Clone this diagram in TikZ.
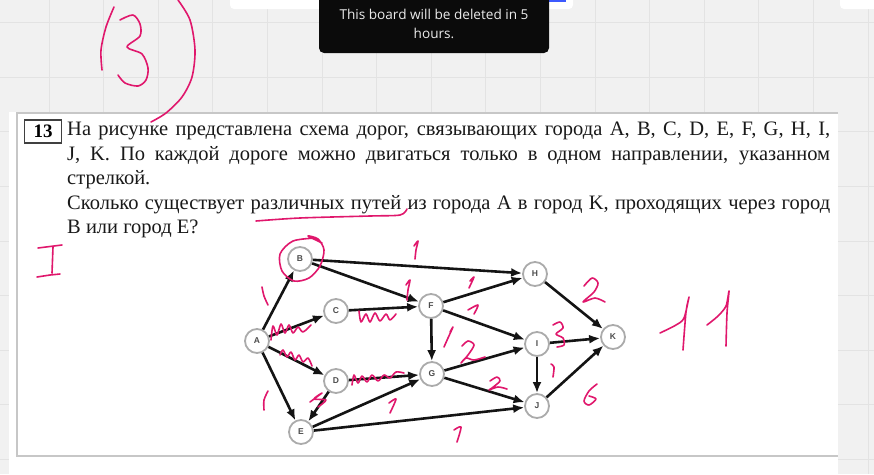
\documentclass[tikz,border=0pt]{standalone}
\usepackage{fontspec}
\setmainfont{Liberation Serif}
\newfontfamily\uifont{Open Sans}
\newfontfamily\cityfont{Liberation Sans}
\usepackage{tikz}
\usetikzlibrary{arrows.meta,positioning,calc}

\definecolor{board}{HTML}{F1F1F1}
\definecolor{gridline}{HTML}{E3E3E3}
\definecolor{ink}{HTML}{E0176C}
\definecolor{tipbg}{HTML}{0B0B0B}
\definecolor{barblue}{HTML}{3D5AFE}

\begin{document}
\begin{tikzpicture}[
  x=1pt, y=-1pt,
  city/.style={circle, draw=black!33, line width=1.8pt, fill=white, minimum size=24pt,
    inner sep=0pt, font=\cityfont\bfseries\fontsize{8.5}{8.5}\selectfont, text=black!70},
  road/.style={-{Latex[length=11pt,width=9pt]}, line width=2.6pt, black!92},
  pen/.style={ink, line width=1.6pt, line cap=round, line join=round},
  textline/.style={anchor=west, inner sep=0pt, font=\fontsize{20.5}{20.5}\selectfont, text=black!90},
]
  \useasboundingbox (0,0) rectangle (874,474);

  % board
  \fill[board] (0,0) rectangle (874,474);
  \foreach \k in {0,...,15}
    \draw[gridline, line width=0.8pt] (868-54.6*\k,0) -- ++(0,474);
  \foreach \k in {0,...,8}
    \draw[gridline, line width=0.8pt] (0,22.5+54.6*\k) -- ++(874,0);
  \fill[white, rounded corners=4pt] (230,-6) rectangle (573,9);
  \fill[barblue] (548,0) rectangle (566,1.7);
  \fill[white, rounded corners=4pt] (840,-6) rectangle (880,9);

  % toast
  \fill[tipbg, rounded corners=5pt] (319,-8) rectangle (549,53);
  \node[font=\uifont\fontsize{13.6}{19.5}\selectfont, text=white!92!black, align=center]
    (toast) at (434,24) {This board will be deleted in 5\\hours.};

  % page
  \fill[white] (9,112) rectangle (838,474);
  \draw[black!22, line width=1.3pt] (838,113) -- (17,113) -- (17,456) -- (838,456);

  \node[draw=black!75, line width=1.5pt, minimum width=37pt, minimum height=23pt, inner sep=0pt,
    font=\bfseries\fontsize{19}{19}\selectfont] (num) at (43,131.5) {13};
  \node[textline] (l1) at (67,131)
    {\makebox[763pt][s]{На рисунке представлена схема дорог, связывающих города A, B, C, D, E, F, G, H, I,}};
  \node[textline] (l2) at (67,156)
    {\makebox[763pt][s]{J, K. По каждой дороге можно двигаться только в одном направлении, указанном}};
  \node[textline] (l3) at (67,180) {стрелкой.};
  \node[textline] (l4) at (67,205)
    {\makebox[763pt][s]{Сколько существует различных путей из города A в город K, проходящих через город}};
  \node[textline] (l5) at (67,229) {B или город E?};

  % cities
  \node[city] (A) at (257,341) {A};
  \node[city] (B) at (300,259) {B};
  \node[city] (C) at (336,311) {C};
  \node[city] (D) at (336,381) {D};
  \node[city] (E) at (301,432) {E};
  \node[city] (F) at (431,306) {F};
  \node[city] (G) at (432,374) {G};
  \node[city] (H) at (535,274) {H};
  \node[city] (I) at (537,344) {I};
  \node[city] (J) at (537,406) {J};
  \node[city] (K) at (613,337) {K};

  % roads
  \draw[road] (A) -- (B);
  \draw[road] (A) -- (C);
  \draw[road] (A) -- (D);
  \draw[road] (A) -- (E);
  \draw[road] (B) -- (H);
  \draw[road] (B) -- (F);
  \draw[road] (C) -- (F);
  \draw[road] (D) -- (G);
  \draw[road] (D) -- (E);
  \draw[road] (E) -- (G);
  \draw[road] (E) -- (J);
  \draw[road] (F) -- (H);
  \draw[road] (F) -- (I);
  \draw[road] (F) -- (G);
  \draw[road] (G) -- (I);
  \draw[road] (G) -- (J);
  \draw[road] (H) -- (K);
  \draw[road] (I) -- (K);
  \draw[road] (I) -- (J);
  \draw[road] (J) -- (K);

  % handwriting
  \draw[pen] plot[smooth] coordinates {(114,7) (106,27) (101,50) (102,70)};
  \draw[pen] plot[smooth] coordinates {(120,20) (133,15) (140,24) (140,36) (127,47) (142,54) (148,68) (146,80) (138,86) (125,83) (118,75)};
  \draw[pen] plot[smooth] coordinates {(178,0) (190,20) (195,50) (192,77) (182,97) (166,113) (151,122)};
  \draw[pen] plot[smooth] coordinates {(256,221) (300,218) (370,216) (400,215) (407,209)};
  \draw[pen] (38,248) -- (62,245) (53,247) -- (52,273) (37,277) -- (50,275) -- (60,274);
  \draw[pen] plot[smooth] coordinates {(660,333) (676,325) (684,318) (689,297) (686,312) (683,350)};
  \draw[pen] plot[smooth] coordinates {(707,325) (718,316) (726,306) (729,291) (727,313) (726,346)};
  \draw[pen] plot[smooth] coordinates {(316,238) (293,241) (280,254) (282,271) (294,281) (309,278) (320,266) (324,250) (318,239) (308,236) (322,243)};

  \draw[pen] plot[smooth] coordinates {(262,287) (264,296) (268,305)};
  \draw[pen] plot[smooth] coordinates {(414,246) (418,241) (416,250) (415,259)};
  \draw[pen] plot[smooth] coordinates {(406,285) (410,280) (408,290) (407,300)};
  \draw[pen] plot[smooth] coordinates {(470,281) (474,277) (469,288)};
  \draw[pen] plot[smooth] coordinates {(468,310) (478,305) (474,314)};
  \draw[pen] plot[smooth] coordinates {(450,332) (453,327) (448,338) (444,347)};
  \draw[pen] plot[smooth] coordinates {(462,346) (468,341) (474,345) (468,355) (461,363) (466,358) (474,360) (485,357)};
  \draw[pen] plot[smooth] coordinates {(490,381) (497,377) (500,381) (492,388) (489,390) (498,387) (507,389)};
  \draw[pen] plot[smooth] coordinates {(584,286) (592,278) (598,283) (594,292) (583,302) (595,298) (605,302)};
  \draw[pen] plot[smooth] coordinates {(553,325) (560,322) (563,328) (556,334) (563,338) (564,345) (557,347)};
  \draw[pen] plot[smooth] coordinates {(551,364) (554,367) (553,377)};
  \draw[pen] plot[smooth] coordinates {(597,384) (589,391) (584,401) (589,405) (596,399) (589,396)};
  \draw[pen] plot[smooth] coordinates {(454,430) (461,427) (457,442)};
  \draw[pen] plot[smooth] coordinates {(268,391) (264,400) (264,410)};
  \draw[pen] plot[smooth] coordinates {(389,403) (396,399) (390,413)};

  \draw[pen] plot[smooth] coordinates {(271,340) (273,326) (277,335) (281,324) (285,333) (289,325) (293,333) (298,327) (303,332) (311,325)};
  \draw[pen] plot[smooth] coordinates {(359,311) (361,322) (366,314) (370,322) (375,313) (380,321) (386,314) (390,320) (396,314)};
  \draw[pen] plot[smooth] coordinates {(280,355) (283,350) (287,357) (291,352) (295,360) (299,355) (303,362) (308,358) (312,366)};
  \draw[pen] plot[smooth] coordinates {(352,385) (354,375) (358,383) (362,376) (367,382) (372,375) (378,381) (384,375) (390,378) (396,372) (404,373)};
  \draw[pen] plot[smooth] coordinates {(310,402) (322,393) (314,399) (326,400) (318,407)};
\end{tikzpicture}
\end{document}
